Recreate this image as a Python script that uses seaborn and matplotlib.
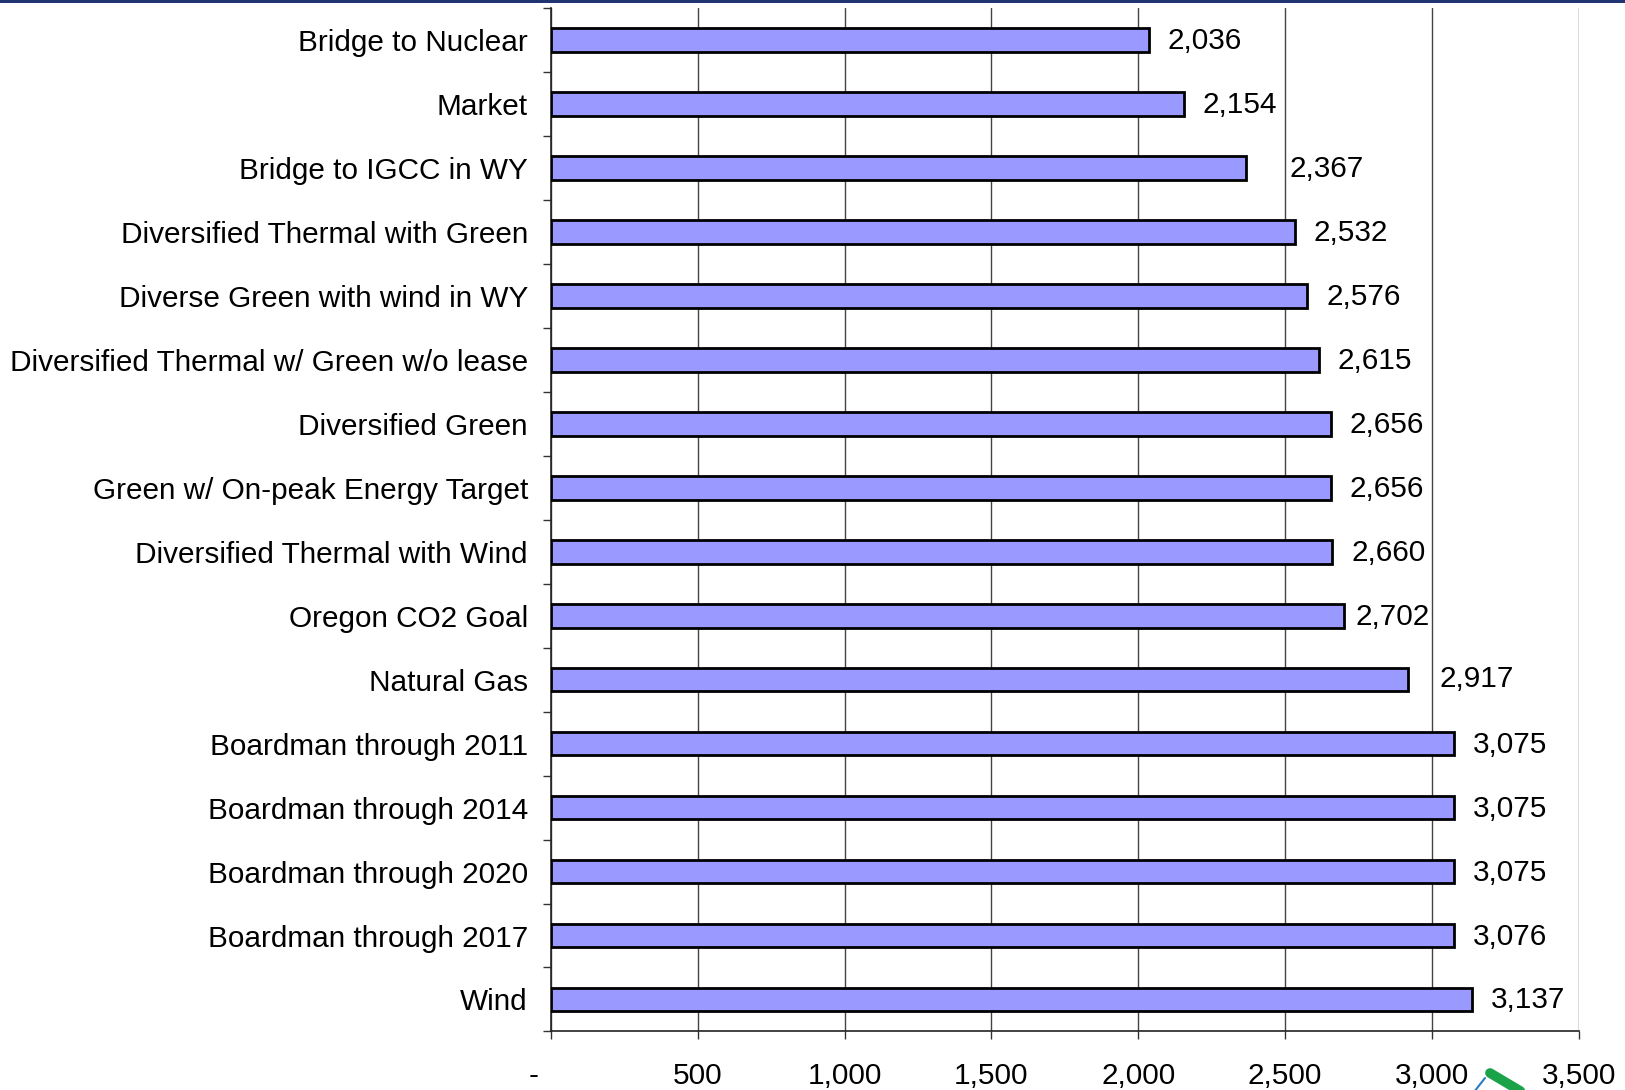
import matplotlib
matplotlib.use("Agg")
import matplotlib.pyplot as plt
from matplotlib.ticker import FixedLocator, FuncFormatter
from matplotlib.lines import Line2D
from matplotlib.patches import Rectangle
import seaborn as sns
import pandas as pd

# Portfolio names, top to bottom
portfolios = [
    "Bridge to Nuclear",
    "Market",
    "Bridge to IGCC in WY",
    "Diversified Thermal with Green",
    "Diverse Green with wind in WY",
    "Diversified Thermal w/ Green w/o lease",
    "Diversified Green",
    "Green w/ On-peak Energy Target",
    "Diversified Thermal with Wind",
    "Oregon CO2 Goal",
    "Natural Gas",
    "Boardman through 2011",
    "Boardman through 2014",
    "Boardman through 2020",
    "Boardman through 2017",
    "Wind",
]
values = [2036, 2154, 2367, 2532, 2576, 2615, 2656, 2656, 2660, 2702,
          2917, 3075, 3075, 3075, 3076, 3137]
x_ticks = [0, 500, 1000, 1500, 2000, 2500, 3000, 3500]

df = pd.DataFrame({"portfolio": portfolios, "value": values})

sns.set_theme(style="white")
plt.rcParams["font.family"] = ["Liberation Sans", "DejaVu Sans"]

FS = 21.4

fig = plt.figure(figsize=(16.25, 10.9), dpi=100)
ax = fig.add_axes([0.339, 0.0537, 0.6326, 0.939])

sns.barplot(data=df, x="value", y="portfolio", orient="h", order=portfolios,
            color="#9999FF", saturation=1, width=0.37,
            edgecolor="black", linewidth=2.0, ax=ax, zorder=3)

ax.set_xlim(0, 3500)
ax.set_ylim(len(portfolios) - 0.5, -0.5)
ax.set_xlabel("")
ax.set_ylabel("")

# x axis: accounting-style labels (zero shown as a dash), gridlines, outward ticks
ax.xaxis.set_major_locator(FixedLocator(x_ticks))
ax.xaxis.set_major_formatter(FuncFormatter(lambda v, p: "-    " if v == 0 else f"{int(v):,}"))
ax.tick_params(axis="x", which="major", direction="out", length=6, width=1.0,
               color="#333333", pad=16, labelsize=FS, labelcolor="black", bottom=True)
ax.grid(axis="x", color="#444444", linewidth=1.0, zorder=0)
ax.grid(axis="y", visible=False)

# y axis: labels at category centres, short ticks at category boundaries
ax.yaxis.set_minor_locator(FixedLocator([i - 0.5 for i in range(len(portfolios) + 1)]))
ax.tick_params(axis="y", which="major", length=0, pad=16.5, labelsize=FS, labelcolor="black")
ax.tick_params(axis="y", which="minor", direction="out", length=6, width=1.0,
               color="#333333", left=True)

for side in ["top", "right"]:
    ax.spines[side].set_visible(False)
for side in ["left", "bottom"]:
    ax.spines[side].set_color("#222222")
    ax.spines[side].set_linewidth(1.2)

# value labels beside each bar (pixel offsets from bar end)
nudge = {"Bridge to IGCC in WY": (43, -1), "Natural Gas": (32, 1), "Oregon CO2 Goal": (11, -1)}
for i, (name, v) in enumerate(zip(portfolios, values)):
    dx, dy = nudge.get(name, (19, -1))
    ax.annotate(f"{v:,}", xy=(v, i), xytext=(dx, dy), textcoords="offset pixels",
                ha="left", va="center", fontsize=FS, color="black")

# navy rule along the top edge
fig.add_artist(Rectangle((0, 1 - 3 / 1090), 1, 3 / 1090, transform=fig.transFigure,
                         facecolor="#1F3470", edgecolor="none"))

# corner logo fragment
fig.add_artist(Line2D([1490 / 1625, 1522 / 1625], [1 - 1073 / 1090, 1 - 1092 / 1090],
                      transform=fig.transFigure, color="#1BA34A", linewidth=7,
                      solid_capstyle="round"))
fig.add_artist(Line2D([1474 / 1625, 1485 / 1625], [1 - 1092 / 1090, 1 - 1078 / 1090],
                      transform=fig.transFigure, color="#2B7BC4", linewidth=1.5))

fig.savefig("out.png", dpi=100)
